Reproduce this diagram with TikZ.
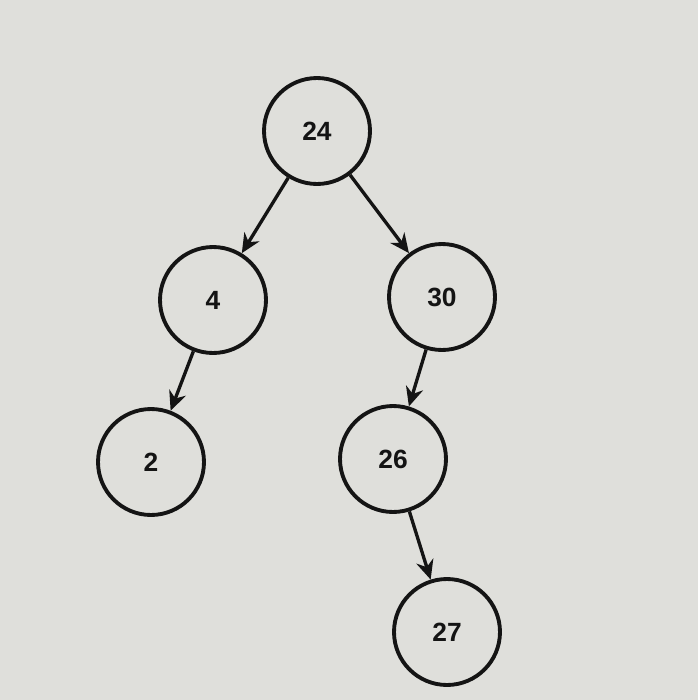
\documentclass[tikz,border=0pt]{standalone}
\usepackage{fontspec}
\setmainfont{Liberation Sans}
\usetikzlibrary{arrows.meta, positioning}

\definecolor{screengray}{RGB}{223,223,219}
\definecolor{inkblack}{RGB}{20,20,20}

\begin{document}
\begin{tikzpicture}[
        x=0.02cm, y=-0.02cm,
        every node/.style={font=\bfseries\fontsize{15}{17}\selectfont, text=inkblack},
        treenode/.style={circle, draw=inkblack, line width=2.2pt, minimum size=2.12cm, inner sep=0pt},
        treeedge/.style={draw=inkblack, line width=1.9pt, -{Stealth[length=11pt, width=10pt]}}
    ]
        % --- Background ---
        \fill[screengray] (0,0) rectangle (698,700);
        \useasboundingbox (0,0) rectangle (698,700);

        % --- Nodes ---
        \node[treenode] (n24) at (317,131) {24};
        \node[treenode] (n4)  at (213,300) {4};
        \node[treenode] (n30) at (442,297) {30};
        \node[treenode] (n2)  at (151,462) {2};
        \node[treenode] (n26) at (393,459) {26};
        \node[treenode] (n27) at (447,632) {27};

        % --- Edges ---
        \draw[treeedge] (n24) -- (n4);
        \draw[treeedge] (n24) -- (n30);
        \draw[treeedge] (n4) -- (n2);
        \draw[treeedge] (n30) -- (n26);
        \draw[treeedge] (n26) -- (n27);

    \end{tikzpicture}
\end{document}
